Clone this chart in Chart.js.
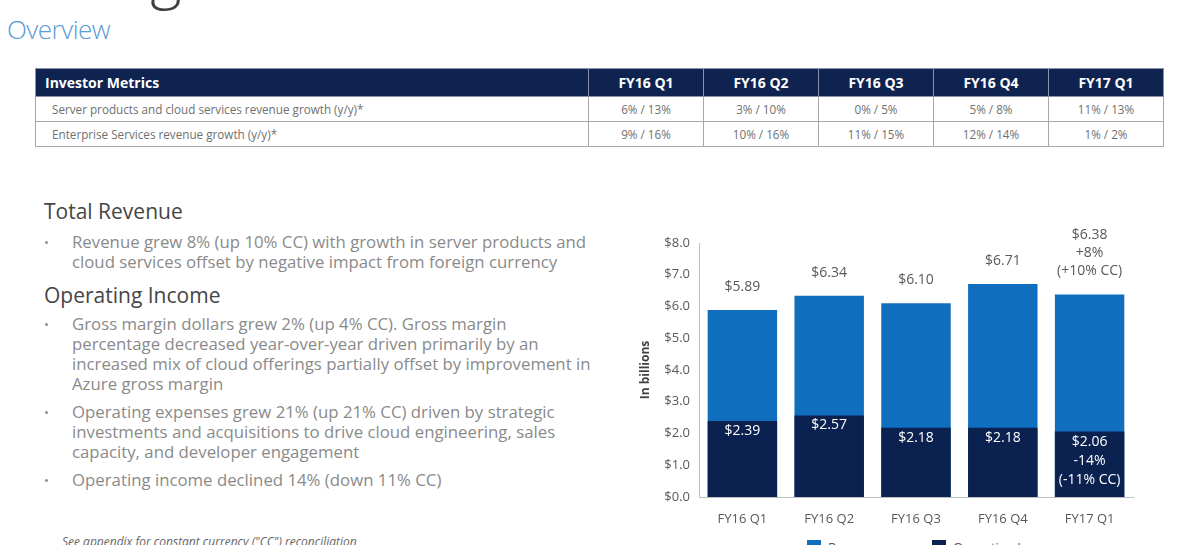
<!DOCTYPE html>
<html>
<head>
<meta charset="utf-8">
<script src="https://cdn.jsdelivr.net/npm/chart.js@4.4.1/dist/chart.umd.min.js"></script>
<style>
  html, body { margin: 0; padding: 0; }
  body { width: 1200px; height: 545px; overflow: hidden; position: relative; background: #fff; font-family: "Open Sans", sans-serif; }
  .big-title { position: absolute; left: 6px; top: -67px; font-size: 60px; font-weight: 300; color: #404040; white-space: nowrap; }
  .subtitle { position: absolute; left: 7px; top: 11px; font-size: 26px; font-weight: 300; color: #5b9bd5; letter-spacing: -0.5px; }
  table.metrics { position: absolute; left: 35px; top: 68px; width: 1129px; border-collapse: collapse; font-size: 11.7px; color: #707070; }
  table.metrics th { background: #0f2350; color: #fff; font-size: 14px; font-weight: 700; height: 27px; padding: 0; border: 1px solid #8a94a8; }
  table.metrics th:first-child { text-align: left; padding-left: 9px; }
  table.metrics td { height: 24px; padding: 0; border: 1px solid #a8a8a8; text-align: center; }
  table.metrics td:first-child { text-align: left; padding-left: 16px; }
  .col { width: 114px; }
  .section { position: absolute; left: 44px; font-size: 21px; color: #454545; }
  .bullet { position: absolute; left: 72px; font-size: 16.8px; line-height: 20px; color: #8a8a8a; white-space: nowrap; }
  .bullet::before { content: "\2022"; position: absolute; left: -28px; font-size: 13px; }
  .foot { position: absolute; left: 62px; top: 533px; font-size: 12px; font-style: italic; color: #666; }
  #chartBox { position: absolute; left: 630px; top: 215px; width: 550px; height: 315px; }
  #legend { position: absolute; left: 807px; top: 540px; display: flex; font-size: 13px; color: #595959; white-space: nowrap; }
  #legend .item { display: flex; align-items: flex-start; }
  #legend .item:first-child { width: 125px; }
  #legend .box { width: 14px; height: 14px; margin-right: 7px; }
  #legend .txt { margin-top: -2px; }
</style>
</head>
<body>
<div class="big-title">Intelligent Cloud</div>
<div class="subtitle">Overview</div>

<table class="metrics">
  <tr><th>Investor Metrics</th><th class="col">FY16 Q1</th><th class="col">FY16 Q2</th><th class="col">FY16 Q3</th><th class="col">FY16 Q4</th><th class="col">FY17 Q1</th></tr>
  <tr><td>Server products and cloud services revenue growth (y/y)*</td><td>6% / 13%</td><td>3% / 10%</td><td>0% / 5%</td><td>5% / 8%</td><td>11% / 13%</td></tr>
  <tr><td>Enterprise Services revenue growth (y/y)*</td><td>9% / 16%</td><td>10% / 16%</td><td>11% / 15%</td><td>12% / 14%</td><td>1% / 2%</td></tr>
</table>

<div class="section" style="top:197px">Total Revenue</div>
<div class="bullet" style="top:232px">Revenue grew 8% (up 10% CC) with growth in server products and<br>cloud services offset by negative impact from foreign currency</div>
<div class="section" style="top:281px">Operating Income</div>
<div class="bullet" style="top:314px">Gross margin dollars grew 2% (up 4% CC). Gross margin<br>percentage decreased year-over-year driven primarily by an<br>increased mix of cloud offerings partially offset by improvement in<br>Azure gross margin</div>
<div class="bullet" style="top:402px">Operating expenses grew 21% (up 21% CC) driven by strategic<br>investments and acquisitions to drive cloud engineering, sales<br>capacity, and developer engagement</div>
<div class="bullet" style="top:470px">Operating income declined 14% (down 11% CC)</div>
<div class="foot">See appendix for constant currency ("CC") reconciliation</div>

<div id="chartBox"><canvas id="chart"></canvas></div>
<div id="legend"></div>

<script>
const quarters = ['FY16 Q1', 'FY16 Q2', 'FY16 Q3', 'FY16 Q4', 'FY17 Q1'];
const revenue = [5.89, 6.34, 6.10, 6.71, 6.38];
const operatingIncome = [2.39, 2.57, 2.18, 2.18, 2.06];
const revenueLabels = [['$5.89'], ['$6.34'], ['$6.10'], ['$6.71'], ['$6.38', '+8%', '(+10% CC)']];
const incomeLabels = [['$2.39'], ['$2.57'], ['$2.18'], ['$2.18'], ['$2.06', '-14%', '(-11% CC)']];

// value labels: revenue above the bar, operating income inside near the top
const barLabels = {
  id: 'barLabels',
  afterDatasetsDraw(chart) {
    const ctx = chart.ctx;
    ctx.save();
    ctx.textAlign = 'center';
    ctx.textBaseline = 'middle';
    ctx.font = '14px "Open Sans"';
    chart.getDatasetMeta(1).data.forEach((bar, i) => {
      const lines = revenueLabels[i];
      ctx.fillStyle = '#595959';
      lines.forEach((t, k) => {
        ctx.fillText(t, bar.x, bar.y - 23 - (lines.length - 1 - k) * 18);
      });
    });
    chart.getDatasetMeta(0).data.forEach((bar, i) => {
      const lines = incomeLabels[i];
      ctx.fillStyle = '#ffffff';
      lines.forEach((t, k) => {
        ctx.fillText(t, bar.x, bar.y + 10 + k * 19);
      });
    });
    ctx.restore();
  }
};

const chart = new Chart(document.getElementById('chart'), {
  type: 'bar',
  data: {
    labels: quarters,
    datasets: [
      {
        label: 'Operating Income',
        data: operatingIncome,
        backgroundColor: '#0b2150',
        grouped: false,
        barPercentage: 0.8,
        categoryPercentage: 1
      },
      {
        label: 'Revenue',
        data: revenue,
        backgroundColor: '#106ebe',
        grouped: false,
        barPercentage: 0.8,
        categoryPercentage: 1
      }
    ]
  },
  options: {
    responsive: true,
    maintainAspectRatio: false,
    animation: false,
    layout: { padding: { top: 28, right: 47, left: 0, bottom: 0 } },
    plugins: {
      legend: { display: false },
      tooltip: { enabled: false }
    },
    scales: {
      x: {
        grid: { display: false, drawTicks: false },
        border: { display: true, color: '#bfbfbf' },
        ticks: { color: '#595959', padding: 14, font: { family: 'Open Sans', size: 13 } },
        afterFit: (scale) => { scale.height = 33; }
      },
      y: {
        min: 0,
        max: 8,
        grid: { display: false, drawTicks: false },
        border: { display: true, color: '#bfbfbf' },
        ticks: {
          stepSize: 1,
          padding: 9,
          color: '#595959',
          font: { family: 'Open Sans', size: 13 },
          callback: (v) => '$' + Number(v).toFixed(1)
        },
        title: {
          display: true,
          text: 'In billions',
          color: '#404040',
          padding: { top: 8, bottom: 0 },
          font: { family: 'Open Sans', size: 12, weight: 'bold' }
        },
        afterFit: (scale) => { scale.width = 69; }
      }
    }
  },
  plugins: [barLabels]
});

// legend built from the chart's datasets, Revenue first
const legendEl = document.getElementById('legend');
[1, 0].forEach(i => {
  const ds = chart.data.datasets[i];
  const item = document.createElement('div');
  item.className = 'item';
  item.innerHTML = `<span class="box" style="background:${ds.backgroundColor}"></span><span class="txt">${ds.label}</span>`;
  legendEl.appendChild(item);
});
</script>
</body>
</html>
